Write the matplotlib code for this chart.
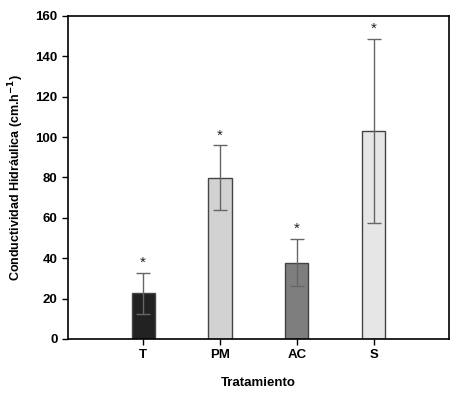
import matplotlib
matplotlib.use('Agg')

import matplotlib.pyplot as plt

tratamientos = ["T", "PM", "AC", "S"]
conductividad = [22.6, 79.8, 37.8, 102.8]
error = [10.3, 16.0, 11.8, 45.6]
colores = ["#222222", "#d2d2d2", "#7e7e7e", "#e6e6e6"]

plt.rcParams['font.family'] = ['Liberation Sans', 'DejaVu Sans']

fig = plt.figure(figsize=(4.59, 3.96), dpi=100)
ax = fig.add_axes([0.148, 0.144, 0.83, 0.816])

x = list(range(1, len(tratamientos) + 1))
ax.bar(x, conductividad, width=0.3, color=colores, edgecolor="#444444", linewidth=1.0, zorder=2)
ax.errorbar(x, conductividad, yerr=error, fmt='none', ecolor="#666666",
            elinewidth=1.0, capsize=5, capthick=1.0, zorder=3)

# asteriscos de significancia
for xi, v, e in zip(x, conductividad, error):
    ax.text(xi, v + e + 1.5, "*", ha='center', va='bottom', fontsize=11, color="#222222")

ax.set_xlim(0.02, 4.98)
ax.set_ylim(0, 160)
ax.set_xticks(x)
ax.set_xticklabels(tratamientos, fontweight='bold', fontsize=9.5)
ax.set_yticks(range(0, 161, 20))
ax.set_yticklabels([str(v) for v in range(0, 161, 20)], fontweight='bold', fontsize=9.5)
ax.tick_params(direction='out', length=4, width=1)
ax.tick_params(axis='y', right=False)

for s in ax.spines.values():
    s.set_linewidth(1.2)

ax.set_xlabel("Tratamiento", fontweight='bold', fontsize=9.5, labelpad=11)
ax.set_ylabel("Conductividad Hidráulica (cm.h$^{\\mathbf{-1}}$)", fontweight='bold', fontsize=9, labelpad=7)

plt.savefig("out.png", dpi=100)
plt.close()
